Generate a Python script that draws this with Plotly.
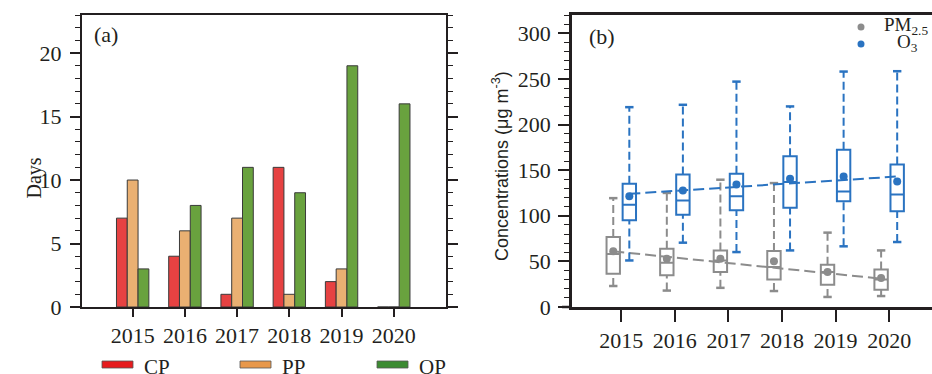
import plotly.graph_objects as go

# ---------------- data ----------------
years = [2015, 2016, 2017, 2018, 2019, 2020]
cp_days = [7, 4, 1, 11, 2, 0]
pp_days = [10, 6, 7, 1, 3, 0]
op_days = [3, 8, 11, 9, 19, 16]

pm_min = [23, 18, 21, 17.5, 11, 12]
pm_q1 = [36.5, 34.7, 38.3, 30, 24.5, 19]
pm_med = [58, 48.6, 51, 43.8, 38.3, 30]
pm_q3 = [76.6, 63.9, 62, 61.3, 46.4, 41]
pm_max = [119.3, 125, 139.5, 135.8, 81.5, 62]
pm_mean = [61, 53, 53, 50, 38.3, 31.8]
pm_trend = [61, 31]

o3_min = [51, 70.5, 60.2, 62, 66.5, 71.2]
o3_q1 = [95, 101, 105.9, 108.8, 116, 104.8]
o3_med = [112, 116.8, 121.5, 136.9, 126.7, 123.4]
o3_q3 = [135, 145.3, 146, 165.3, 172.3, 156.2]
o3_max = [219, 221.6, 247, 219.8, 258, 258.4]
o3_mean = [121.5, 127.8, 134.3, 140.6, 143, 137.6]
o3_trend = [124, 143]

# ---------------- style ----------------
W, H = 932, 374
SERIF = "Liberation Serif"
SANS = "Liberation Sans"
INK = "#231f20"
C_CP, C_PP, C_OP = "#E64242", "#EAB072", "#69A23E"
L_CP, L_PP, L_OP = "#E61C1E", "#E8984B", "#3C8B32"
GRAY, BLUE = "#8C8C8C", "#2A73C1"
OFF = 0.15


def px(x):
    return x / W


def py(y):
    return 1 - y / H


fig = go.Figure()

# ---- panel (a): bars ----
for name, vals, col in [("CP", cp_days, C_CP), ("PP", pp_days, C_PP), ("OP", op_days, C_OP)]:
    fig.add_trace(go.Bar(x=years, y=vals, name=name, marker=dict(color=col, line=dict(color="#3a3a3a", width=1)),
                         xaxis="x", yaxis="y", showlegend=False))

# ---- panel (b): boxes ----
def add_series(off, q1, med, q3, lo, hi, mean, trend, color):
    xs = [y + off for y in years]
    fig.add_trace(go.Box(x=xs, q1=q1, median=med, q3=q3, lowerfence=q1, upperfence=q3,
                         width=0.25, line=dict(color=color, width=2), fillcolor="rgba(0,0,0,0)",
                         whiskerwidth=0, boxpoints=False, xaxis="x2", yaxis="y2", showlegend=False,
                         hoverinfo="skip"))
    wx, wy = [], []
    for x, a, b, c, d in zip(xs, q3, hi, lo, q1):
        wx += [x, x, None, x, x, None]
        wy += [a, b, None, c, d, None]
    fig.add_trace(go.Scatter(x=wx, y=wy, mode="lines", line=dict(color=color, width=2, dash="8px,4px"),
                             xaxis="x2", yaxis="y2", showlegend=False, hoverinfo="skip"))
    fig.add_trace(go.Scatter(x=xs + xs, y=hi + lo, mode="markers",
                             marker=dict(symbol="line-ew", size=6, line=dict(color=color, width=2.5)),
                             xaxis="x2", yaxis="y2", showlegend=False, hoverinfo="skip"))
    fig.add_trace(go.Scatter(x=[years[0] + off, years[-1] + off], y=trend, mode="lines",
                             line=dict(color=color, width=2, dash="11px,5px"),
                             xaxis="x2", yaxis="y2", showlegend=False, hoverinfo="skip"))
    fig.add_trace(go.Scatter(x=xs, y=mean, mode="markers", marker=dict(color=color, size=8),
                             xaxis="x2", yaxis="y2", showlegend=False))


add_series(-OFF, pm_q1, pm_med, pm_q3, pm_min, pm_max, pm_mean, pm_trend, GRAY)
add_series(OFF, o3_q1, o3_med, o3_q3, o3_min, o3_max, o3_mean, o3_trend, BLUE)

tickfont = dict(family=SERIF, size=22, color=INK)
ydom = [py(307), py(15)]

fig.update_layout(
    width=W, height=H, margin=dict(l=0, r=0, t=0, b=0, autoexpand=False),
    paper_bgcolor="white", plot_bgcolor="white",
    barmode="group", bargap=0.38, bargroupgap=0, boxmode="overlay",
    xaxis=dict(domain=[px(82), px(446)], range=[2014.03, 2021.0], tickvals=years, ticktext=[str(y) for y in years],
               ticks="outside", ticklen=8, tickwidth=2, tickcolor=INK, showline=True, linewidth=2, linecolor=INK,
               mirror=True, showgrid=False, zeroline=False, tickfont=tickfont, anchor="y", automargin=False),
    yaxis=dict(domain=ydom, range=[0, 23], dtick=5, ticks="outside", ticklen=10, tickwidth=2, tickcolor=INK,
               minor=dict(dtick=1, ticks="outside", ticklen=5, tickwidth=1, tickcolor=INK),
               showline=True, linewidth=2, linecolor=INK, mirror="ticks", showgrid=False, zeroline=False,
               tickfont=tickfont, ticklabelstandoff=4, anchor="x", automargin=False),
    xaxis2=dict(domain=[px(572), 1.0], range=[2014.08, 2020.8], tickvals=years, ticktext=[str(y) for y in years],
                ticks="outside", ticklen=12, tickwidth=2, tickcolor=INK, showline=True, linewidth=2.5, linecolor=INK,
                mirror=True, showgrid=False, zeroline=False, tickfont=tickfont, anchor="y2", automargin=False),
    yaxis2=dict(domain=ydom, range=[0, 320], dtick=50, ticks="outside", ticklen=11, tickwidth=2, tickcolor=INK,
                minor=dict(dtick=10, ticks="outside", ticklen=5, tickwidth=1, tickcolor=INK),
                showline=True, linewidth=2.5, linecolor=INK, mirror=False, showgrid=False, zeroline=False,
                tickfont=tickfont, ticklabelstandoff=3, anchor="x2", automargin=False),
)

shapes = [
    # x-axis lines extending left of the y spines
    dict(type="line", xref="paper", yref="paper", x0=px(72), x1=px(82), y0=py(307), y1=py(307),
         line=dict(color=INK, width=2)),
    dict(type="line", xref="paper", yref="paper", x0=px(562), x1=px(572), y0=py(307), y1=py(307),
         line=dict(color=INK, width=2.5)),
]
annotations = [
    dict(text="(a)", x=px(92), y=py(34), xref="paper", yref="paper", xanchor="left", yanchor="middle",
         showarrow=False, font=dict(family=SERIF, size=22, color=INK)),
    dict(text="(b)", x=px(587), y=py(37), xref="paper", yref="paper", xanchor="left", yanchor="middle",
         showarrow=False, font=dict(family=SERIF, size=22, color=INK)),
    dict(text="Days", x=px(20), y=py(178), xref="paper", yref="paper", textangle=-90, showarrow=False,
         font=dict(family=SERIF, size=20, color=INK)),
    dict(text="Concentrations (μg m<sup>-3</sup>)", x=px(500), y=py(166), xref="paper", yref="paper",
         textangle=-90, showarrow=False, font=dict(family=SANS, size=18, color=INK)),
]

# legend (a)
for name, col, x0 in [("CP", L_CP, 102), ("PP", L_PP, 240), ("OP", L_OP, 377)]:
    shapes.append(dict(type="rect", xref="paper", yref="paper", x0=px(x0), x1=px(x0 + 31), y0=py(368), y1=py(361),
                       fillcolor=col, line=dict(color="#555555", width=0.8)))
    annotations.append(dict(text=name, x=px(x0 + 40), y=py(353), xref="paper", yref="paper", xanchor="left",
                            yanchor="top", showarrow=False, font=dict(family=SERIF, size=21, color=INK)))

# legend (b)
for label, col, yc, tx in [("PM<sub>2.5</sub>", GRAY, 27, 882), ("O<sub>3</sub>", BLUE, 44, 895)]:
    r = 3.5
    shapes.append(dict(type="circle", xref="paper", yref="paper", x0=px(861 - r), x1=px(861 + r),
                       y0=py(yc + r), y1=py(yc - r), fillcolor=col, line=dict(width=0)))
    annotations.append(dict(text=label, x=px(tx), y=py(yc - 1), xref="paper", yref="paper", xanchor="left",
                            yanchor="middle", showarrow=False, font=dict(family=SERIF, size=19, color=INK)))

fig.update_layout(shapes=shapes, annotations=annotations)
fig.write_html("out.html", config={"displayModeBar": False},
               post_script="document.body.style.margin='0';document.body.style.overflow='hidden';")
